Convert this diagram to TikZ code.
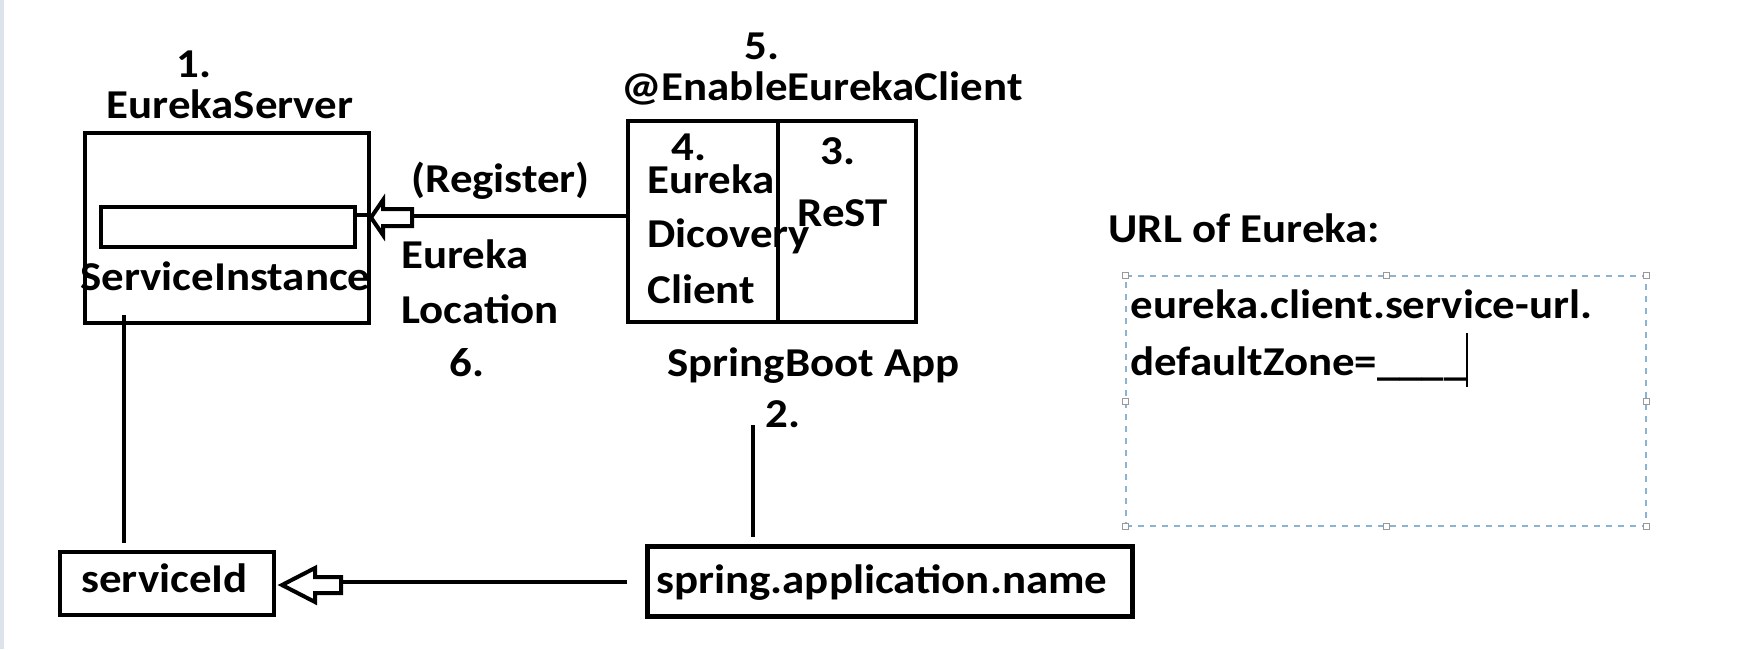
\documentclass[tikz,border=0pt]{standalone}
\usepackage{fontspec}
\setmainfont[FakeStretch=1.095]{Carlito}
\usetikzlibrary{positioning}
\tikzset{
  txt/.style={inner sep=0pt, font=\fontsize{20.5pt}{24pt}\selectfont\bfseries},
  boxx/.style={draw, line width=2pt, inner sep=0pt},
  conn/.style={line width=2pt},
  hollow/.style={draw, line width=2pt, fill=white, line join=miter},
  handle/.style={draw=gray!80, fill=white, line width=0.5pt, minimum size=3pt, inner sep=0pt},
}
\definecolor{selblue}{HTML}{8DB3D3}
\definecolor{edgegray}{HTML}{DDE3EA}
\begin{document}
\begin{tikzpicture}[x=0.5pt,y=-0.5pt]
\useasboundingbox (0,0) rectangle (1744,649);
\fill[edgegray] (0,0) rectangle (4,649);

% boxes
\node[boxx, minimum width=142pt, minimum height=95pt] (server) at (227,228) {};
\node[boxx, minimum width=127pt, minimum height=20pt] (inst) at (228,227) {};
\node[boxx, minimum width=75pt, minimum height=100.5pt] (disc) at (703,221.5) {};
\node[boxx, minimum width=69pt, minimum height=100.5pt] (rest) at (847,221.5) {};
\node[boxx, minimum width=107pt, minimum height=31.5pt] (sid) at (167,583.5) {};
\node[draw, line width=2.5pt, inner sep=0pt, minimum width=242.5pt, minimum height=35pt] (spring) at (889.5,581) {};
\node[draw=selblue, dashed, line width=0.6pt, inner sep=0pt, minimum width=260pt, minimum height=125pt] (url) at (1386,401) {};
\foreach \a in {north west,north,north east,west,east,south west,south,south east}
  \node[handle] (h-\a) at (url.\a) {};

% texts
\node[txt, anchor=base] (t1) at (194,77) {1.};
\node[txt, anchor=base] (tes) at (230,118) {EurekaServer};
\node[txt, anchor=base] (tsi) at (225.5,290) {ServiceInstance};
\node[txt, anchor=base west] (treg) at (411,192) {(Register)};
\node[txt, anchor=base west] (teu) at (401,268) {Eureka};
\node[txt, anchor=base west] (tloc) at (401,323) {Location};
\node[txt, anchor=base] (t6) at (467,376) {6.};
\node[txt, anchor=base] (t5) at (762,59) {5.};
\node[txt, anchor=base] (tenable) at (822,100) {@EnableEurekaClient};
\node[txt, anchor=base west] (t4) at (671,160) {4.};
\node[txt, anchor=base west] (tdc1) at (647,193) {Eureka};
\node[txt, anchor=base west] (tdc2) at (647,247) {Dicovery};
\node[txt, anchor=base west] (tdc3) at (647,303) {Client};
\node[txt, anchor=base] (t3) at (838,164) {3.};
\node[txt, anchor=base west] (trest) at (797,226) {ReST};
\node[txt, anchor=base west] (tsb) at (667,376) {SpringBoot App};
\node[txt, anchor=base] (t2) at (783,427) {2.};
\node[txt, anchor=base west] (tsid) at (81,592) {serviceId};
\node[txt, anchor=base west] (tspr) at (656,593) {spring.application.name};
\node[txt, anchor=base west] (turl) at (1108,242) {URL of Eureka:};
\node[txt, anchor=base west] (tl1) at (1130,318) {eureka.client.service-url.};
\node[txt, anchor=base west] (tl2) at (1130,375) {defaultZone=\_\_\_\_};
\coordinate (cur1) at (1467,333);
\coordinate (cur2) at (1467,387);
\draw[line width=0.8pt] (cur1) -- (cur2);

% connector inside server
\coordinate (ry) at (0,215);
\draw[conn] (inst.east |- ry) -- (server.east |- ry);

% register arrow
\coordinate (regtail) at (412,216);
\draw[conn] (disc.west |- regtail) -- (regtail);
\draw[hollow] (371,217.5) -- (383,200) -- (383,209) -- (412,209) -- (412,226) -- (383,226) -- (383,235) -- cycle;

% vertical lines
\coordinate (v1a) at (124,315);
\coordinate (v1b) at (124,543);
\draw[conn] (v1a) -- (v1b);
\coordinate (v2a) at (753,425);
\coordinate (v2b) at (753,537);
\draw[conn] (v2a) -- (v2b);

% serviceId arrow
\coordinate (sidtail) at (341,582);
\coordinate (sprend) at (627,582);
\draw[conn] (sprend) -- (sidtail);
\draw[hollow] (282,585) -- (315,568) -- (315,577) -- (341,577) -- (341,593) -- (315,593) -- (315,602) -- cycle;
\end{tikzpicture}
\end{document}
